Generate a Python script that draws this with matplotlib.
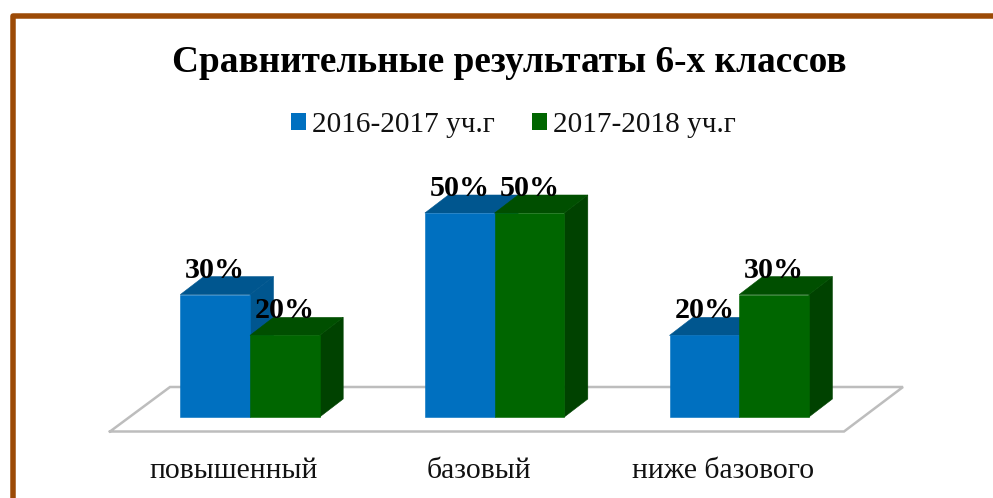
import numpy as np
from matplotlib import pyplot as plt
from matplotlib.patches import Patch

plt.rcParams['font.family'] = ['Liberation Serif', 'DejaVu Serif']

# данные
categories = ['повышенный', 'базовый', 'ниже базового']
series_names = ['2016-2017 уч.г', '2017-2018 уч.г']
values_2016 = [30, 50, 20]
values_2017 = [20, 50, 30]

# цвета: перед, верх, бок
blue = ['#0070C0', '#00568F', '#00568F']
green = ['#006600', '#004F00', '#004200']

W, H = 993, 498
x_unit = 244.6   # пикселей на категорию
y_unit = 4.08    # пикселей на процент
x0_px, y0_px = 250, 417   # где находится (0, 0)

fig = plt.figure(figsize=(W / 100, H / 100), dpi=100, facecolor='white')
ax = fig.add_axes([0, 0, 1, 1])
ax.set_xlim(-x0_px / x_unit, (W - x0_px) / x_unit)
ax.set_ylim(-(H - y0_px) / y_unit, y0_px / y_unit)
ax.axis('off')

width = 69.7 / x_unit
dx = 23.5 / x_unit
dy = 18 / y_unit


def px(x, y):
    # пиксели картинки -> данные
    return (x - x0_px) / x_unit, (y0_px - y) / y_unit


# рамка
ax.plot(*zip(px(12.7, H + 10), px(12.7, 15.8), px(W + 10, 15.8)), color='#9C4A06',
        lw=3.96, solid_joinstyle='round', zorder=1)

# пол диаграммы
floor = [px(110, 431.5), px(844, 431.5), px(903, 387), px(170, 387), px(110, 431.5)]
ax.plot(*zip(*floor), color='#BDBDBD', lw=1.8, solid_joinstyle='miter', zorder=1)


def bars3d(offset, vals, cols, z):
    xs = np.arange(len(vals)) + offset
    for x, v in zip(xs, vals):
        r = x + width
        ax.fill([r, r + dx, r + dx, r], [0, dy, v + dy, v], fc=cols[2], ec=cols[2], lw=0.4, zorder=z)
        ax.fill([x, x + dx, r + dx, r], [v, v + dy, v + dy, v], fc=cols[1], ec=cols[1], lw=0.4, zorder=z)
    ax.bar(xs, vals, width, align='edge', fc=cols[0], ec=cols[0], lw=0.4, zorder=z + 0.5)
    for x, v in zip(xs, vals):
        ax.text(x + width / 2, v + 17 / y_unit, f'{v}%', ha='center', va='baseline',
                fontsize=21.6, fontweight='bold', color='black', zorder=10)


bars3d(-width, values_2016, blue, 3)
bars3d(0, values_2017, green, 4)

# подписи категорий
for i, name in enumerate(categories):
    ax.text(i - 16 / x_unit, px(0, 478)[1], name, ha='center', va='baseline',
            fontsize=21.3, color='#111111')

ax.text(*px(509, 72), 'Сравнительные результаты 6-х классов', ha='center', va='baseline',
        fontsize=26.8, fontweight='bold', color='black')

handles = [Patch(color=blue[0], lw=0), Patch(color=green[0], lw=0)]
ax.legend(handles, series_names, loc='center', bbox_to_anchor=(513.5 / W, 1 - 125 / H),
          bbox_transform=fig.transFigure, ncol=2, frameon=False, fontsize=21.1,
          handlelength=0.51, handleheight=0.51, handletextpad=0.2, columnspacing=1.26,
          labelcolor='#111111')

fig.savefig('out.png', dpi=100, facecolor='white')
